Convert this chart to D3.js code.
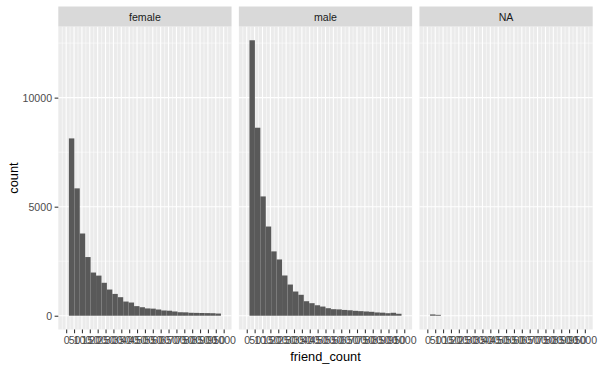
<!DOCTYPE html>
<html><head><meta charset="utf-8">
<script src="https://cdn.jsdelivr.net/npm/d3@7"></script>
<style>body{margin:0;background:#fff}svg{display:block}text{font-family:"Liberation Sans",Arial,sans-serif}</style>
</head><body><div id="chart"></div>
<script>
const panels = ["female", "male", "NA"];
const binWidth = 1000 / 29;
const binIndex = [1,2,3,4,5,6,7,8,9,10,11,12,13,14,15,16,17,18,19,20,21,22,23,24,25,26,27,28];
const femaleCounts = [8130,5840,3770,2690,1980,1840,1510,1200,1000,850,650,605,440,390,335,325,285,240,230,195,160,155,135,130,125,120,115,100];
const maleCounts = [12630,8620,5470,4090,2950,2580,1845,1430,1110,960,665,575,480,420,345,300,290,265,250,225,210,195,180,150,140,115,135,90];
const naCounts = [60,40,0,0,0,0,0,0,0,0,0,0,0,0,0,0,0,0,0,0,0,0,0,0,0,0,0,0];
const xTicks = [0,50,100,150,200,250,300,350,400,450,500,550,600,650,700,750,800,850,900,950,1000];
const yTicks = [0,5000,10000];
const seriesByPanel = {female: femaleCounts, male: maleCounts, NA: naCounts};

const W = 600, H = 370;
const plotLeft = 58.3, plotRight = 592.7, gap = 7.33;
const panelTop = 26.5, panelBottom = 329.5, stripTop = 6.5;
const panelW = (plotRight - plotLeft - 2 * gap) / 3;
const smallFont = "10.6px", titleFont = "12.8px";

const svg = d3.select("#chart").append("svg").attr("width", W).attr("height", H);

const yMax = d3.max(maleCounts.concat(femaleCounts));
const y = d3.scaleLinear().domain([-0.05 * yMax, 1.05 * yMax]).range([panelBottom, panelTop]);

panels.forEach((p, pi) => {
  const x0 = plotLeft + pi * (panelW + gap);
  const x = d3.scaleLinear().domain([-50, 1050]).range([x0, x0 + panelW]);
  const g = svg.append("g");
  g.append("rect").attr("x", x0).attr("y", panelTop).attr("width", panelW).attr("height", panelBottom - panelTop).attr("fill", "#EBEBEB");
  const xMinor = [-25].concat(xTicks.map(t => t + 25));
  g.selectAll(".xm").data(xMinor).enter().append("line")
    .attr("x1", d => x(d)).attr("x2", d => x(d)).attr("y1", panelTop).attr("y2", panelBottom)
    .attr("stroke", "#fff").attr("stroke-width", 0.53);
  const yMinor = [2500, 7500, 12500].filter(v => v < y.domain()[1]);
  g.selectAll(".ym").data(yMinor).enter().append("line")
    .attr("x1", x0).attr("x2", x0 + panelW).attr("y1", d => y(d)).attr("y2", d => y(d))
    .attr("stroke", "#fff").attr("stroke-width", 0.53);
  g.selectAll(".xM").data(xTicks).enter().append("line")
    .attr("x1", d => x(d)).attr("x2", d => x(d)).attr("y1", panelTop).attr("y2", panelBottom)
    .attr("stroke", "#fff").attr("stroke-width", 1.07);
  g.selectAll(".yM").data(yTicks).enter().append("line")
    .attr("x1", x0).attr("x2", x0 + panelW).attr("y1", d => y(d)).attr("y2", d => y(d))
    .attr("stroke", "#fff").attr("stroke-width", 1.07);
  const counts = seriesByPanel[p];
  g.selectAll(".bar").data(binIndex.map((b, i) => ({b, c: counts[i]})).filter(d => d.c > 0)).enter().append("rect")
    .attr("x", d => x((d.b - 0.5) * binWidth))
    .attr("width", d => x((d.b + 0.5) * binWidth) - x((d.b - 0.5) * binWidth))
    .attr("y", d => y(d.c)).attr("height", d => y(0) - y(d.c))
    .attr("fill", "#595959");
  g.append("rect").attr("x", x0).attr("y", stripTop).attr("width", panelW).attr("height", panelTop - stripTop).attr("fill", "#D9D9D9");
  g.append("text").attr("x", x0 + panelW / 2).attr("y", 21.3).attr("text-anchor", "middle")
    .attr("font-size", smallFont).attr("fill", "#1A1A1A").text(p);
  const ax = g.append("g").attr("transform", `translate(0,${panelBottom})`)
    .call(d3.axisBottom(x).tickValues(xTicks).tickFormat(d3.format("d")).tickSize(3.67).tickPadding(3.2));
  ax.select(".domain").remove();
  ax.selectAll(".tick line").attr("stroke", "#333333").attr("stroke-width", 1.07);
  ax.selectAll(".tick text").attr("fill", "#4D4D4D").attr("font-size", smallFont).attr("font-family", "Liberation Sans, Arial, sans-serif");
});

const ay = svg.append("g").attr("transform", `translate(${plotLeft},0)`)
  .call(d3.axisLeft(y).tickValues(yTicks).tickFormat(d3.format("d")).tickSize(3.67).tickPadding(2.6));
ay.select(".domain").remove();
ay.selectAll(".tick line").attr("stroke", "#333333").attr("stroke-width", 1.07);
ay.selectAll(".tick text").attr("fill", "#4D4D4D").attr("font-size", smallFont).attr("font-family", "Liberation Sans, Arial, sans-serif");

svg.append("text").attr("x", (plotLeft + plotRight) / 2).attr("y", 360.5).attr("text-anchor", "middle")
  .attr("font-size", titleFont).attr("fill", "#000").text("friend_count");
svg.append("text").attr("transform", `translate(18,${(panelTop + panelBottom) / 2}) rotate(-90)`).attr("text-anchor", "middle")
  .attr("font-size", titleFont).attr("fill", "#000").text("count");
</script></body></html>
